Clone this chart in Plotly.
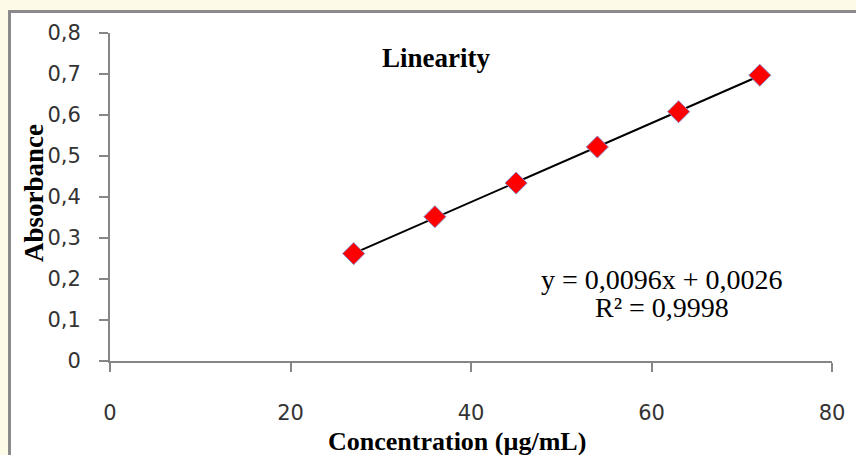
import numpy as np
import plotly.graph_objects as go

# Data
concentration = [27, 36, 45, 54, 63, 72]
absorbance = [0.262, 0.352, 0.434, 0.522, 0.608, 0.697]
x_ticks = [0, 20, 40, 60, 80]
x_tick_labels = ["0", "20", "40", "60", "80"]
y_ticks = [0, 0.1, 0.2, 0.3, 0.4, 0.5, 0.6, 0.7, 0.8]
y_tick_labels = ["0", "0,1", "0,2", "0,3", "0,4", "0,5", "0,6", "0,7", "0,8"]
equation_text = "y = 0,0096x + 0,0026"
r2_text = "R² = 0,9998"

W, H = 856, 455
ML, MR, MT, MB = 110, 24, 33, 94
PW, PH = W - ML - MR, H - MT - MB

def px_x(p):
    return (p - ML) / PW

def px_y(p):
    return (H - MB - p) / PH

slope, intercept = np.polyfit(concentration, absorbance, 1)
trend_x = [min(concentration), max(concentration)]
trend_y = [slope * v + intercept for v in trend_x]

fig = go.Figure()
fig.add_trace(go.Scatter(x=trend_x, y=trend_y, mode="lines",
                         line=dict(color="black", width=2), showlegend=False,
                         hoverinfo="skip"))
fig.add_trace(go.Scatter(x=concentration, y=absorbance, mode="markers",
                         marker=dict(symbol="diamond", size=17, color="#FF0000",
                                     line=dict(color="#8c8cc8", width=1)),
                         showlegend=False))

axis_color = "#868686"
tick_font = dict(family="DejaVu Sans", size=21, color="#333333")
serif = "Liberation Serif"

def ann(text, x, y, size=27, angle=0):
    return dict(text=text, xref="paper", yref="paper", x=px_x(x), y=px_y(y),
                xanchor="center", yanchor="middle", showarrow=False, textangle=angle,
                font=dict(family=serif, size=size, color="black"))

fig.update_layout(
    width=W, height=H,
    margin=dict(l=ML, r=MR, t=MT, b=MB, pad=0),
    paper_bgcolor="#FDFAE8",
    plot_bgcolor="white",
    shapes=[dict(type="rect", xref="paper", yref="paper", layer="below",
                 x0=px_x(9.5), x1=px_x(W + 10), y0=px_y(H + 10), y1=px_y(11.5),
                 fillcolor="white", line=dict(color="#8a8a8a", width=3))],
    xaxis=dict(range=[0, 80], tickvals=x_ticks, ticktext=x_tick_labels,
               showgrid=False, zeroline=False, showline=True, linecolor=axis_color,
               linewidth=2, ticks="outside", ticklen=9, tickwidth=2, tickcolor=axis_color,
               tickfont=tick_font, ticklabelstandoff=23, fixedrange=True),
    yaxis=dict(range=[0, 0.8], tickvals=y_ticks, ticktext=y_tick_labels,
               showgrid=False, zeroline=False, showline=True, linecolor=axis_color,
               linewidth=2, ticks="outside", ticklen=9, tickwidth=2, tickcolor=axis_color,
               tickfont=tick_font, ticklabelstandoff=14, fixedrange=True),
    annotations=[
        ann("<b>Linearity</b>", 436, 58),
        ann("<b>Concentration (µg/mL)</b>", 457, 441, size=26),
        ann("<b>Absorbance</b>", 34, 193, angle=-90),
        ann(equation_text, 662, 279, size=28),
        ann(r2_text, 662, 307, size=28),
    ],
)

fig.write_html("out.html")
